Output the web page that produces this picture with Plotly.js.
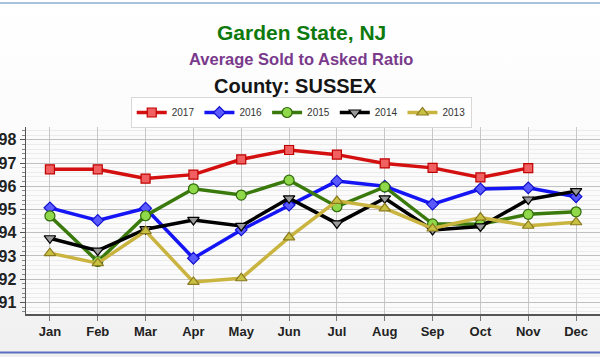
<!DOCTYPE html>
<html>
<head>
<meta charset="utf-8">
<script src="https://cdn.plot.ly/plotly-3.0.1.min.js"></script>
<style>
html,body{margin:0;padding:0;}
body{width:600px;height:357px;background:linear-gradient(#ffffff 0%, #fbfbfb 40%, #f0f0f0 100%);}
#chart{width:600px;height:357px;}
</style>
</head>
<body>
<div id="chart"></div>
<script>
const months = ["Jan","Feb","Mar","Apr","May","Jun","Jul","Aug","Sep","Oct","Nov","Dec"];
const y2017 = [96.73, 96.73, 96.33, 96.5, 97.16, 97.56, 97.36, 96.98, 96.79, 96.38, 96.78, null];
const y2016 = [95.07, 94.53, 95.05, 92.9, 94.12, 95.19, 96.22, 96.0, 95.23, 95.88, 95.93, 95.55];
const y2015 = [94.72, 92.76, 94.73, 95.89, 95.62, 96.26, 95.12, 95.97, 94.38, 94.36, 94.79, 94.9];
const y2014 = [93.76, 93.23, 94.15, 94.55, 94.29, 95.48, 94.4, 95.48, 94.12, 94.27, 95.43, 95.79];
const y2013 = [93.12, 92.69, 94.07, 91.88, 92.04, 93.8, 95.37, 95.05, 94.18, 94.65, 94.3, 94.45];

const x = months.map((m,i)=>i);
function tr(name, y, lineColor, sym, fill, border, size){
  return {type:'scatter', mode:'lines+markers', name:name, x:x, y:y,
    line:{color:lineColor, width:3.5},
    marker:{symbol:sym, size:size, color:fill, line:{color:border, width:1.2}},
    connectgaps:false};
}
const traces = [
  tr('2017', y2017, '#d40f0f', 'square', '#f06060', '#c00000', 9),
  tr('2016', y2016, '#1414f5', 'diamond', '#5a5aff', '#1010d0', 9),
  tr('2015', y2015, '#3a7a0c', 'circle', '#8fd84a', '#2f6a0a', 10),
  tr('2014', y2014, '#000000', 'triangle-down', '#9a9a9a', '#000000', 10),
  tr('2013', y2013, '#c9b440', 'triangle-up', '#c8c040', '#8a7a20', 10)
];

const plotH = 357-127-43;
function py(p){ return (357-43-p)/plotH; }

const layout = {
  width:600, height:357,
  paper_bgcolor:'rgba(0,0,0,0)', plot_bgcolor:'#fbfbfb',
  margin:{l:25.5, r:0, t:127, b:43},
  showlegend:true,
  legend:{orientation:'h', x:0.4795, xanchor:'center', y:py(128), yanchor:'bottom',
    bgcolor:'#ffffff', bordercolor:'#d8d8d8', borderwidth:1,
    font:{family:'Liberation Sans, Arial, sans-serif', size:10, color:'#333'},
    itemwidth:30, tracegroupgap:0},
  xaxis:{range:[-0.5, 11.5], tickmode:'array', tickvals:x, ticktext:months,
    showgrid:true, gridcolor:'#c8c8c8', gridwidth:1, zeroline:false,
    showline:true, linecolor:'#555', linewidth:1.5,
    ticks:'outside', ticklen:5, tickcolor:'#777',
    tickfont:{family:'Liberation Sans, Arial, sans-serif', size:13, color:'#222', weight:'bold'}},
  yaxis:{range:[90.5, 98.55], tickvals:[91,92,93,94,95,96,97,98],
    showgrid:true, gridcolor:'#c0c0c0', gridwidth:1, zeroline:false,
    showline:true, linecolor:'#555', linewidth:1.5,
    ticks:'outside', ticklen:5, tickcolor:'#555',
    minor:{dtick:0.2, showgrid:true, gridcolor:'#ececec', ticks:'outside', ticklen:3, tickcolor:'#888'},
    tickfont:{family:'Liberation Sans, Arial, sans-serif', size:16, color:'#222', weight:'bold'}},
  annotations:[
    {text:'<b>Garden State, NJ</b>', xref:'paper', yref:'paper', x:0.4795, y:py(32), xanchor:'center', yanchor:'middle', showarrow:false,
      font:{family:'Liberation Sans, Arial, sans-serif', size:21, color:'#0e7a0e'}},
    {text:'<b>Average Sold to Asked Ratio</b>', xref:'paper', yref:'paper', x:0.4795, y:py(59), xanchor:'center', yanchor:'middle', showarrow:false,
      font:{family:'Liberation Sans, Arial, sans-serif', size:16.5, color:'#7a3a8c'}},
    {text:'<b>County: SUSSEX</b>', xref:'paper', yref:'paper', x:0.47, y:py(86), xanchor:'center', yanchor:'middle', showarrow:false,
      font:{family:'Liberation Sans, Arial, sans-serif', size:20, color:'#151515'}}
  ],
  shapes:[
    {type:'line', xref:'paper', yref:'paper', x0:-0.05, x1:1.05, y0:py(3), y1:py(3), line:{color:'#a9c4dd', width:2}},
    {type:'line', xref:'paper', yref:'paper', x0:-0.05, x1:1.05, y0:py(352.5), y1:py(352.5), line:{color:'#5a6fc0', width:2}}
  ]
};

Plotly.newPlot('chart', traces, layout, {displayModeBar:false, staticPlot:true});
</script>
</body>
</html>
